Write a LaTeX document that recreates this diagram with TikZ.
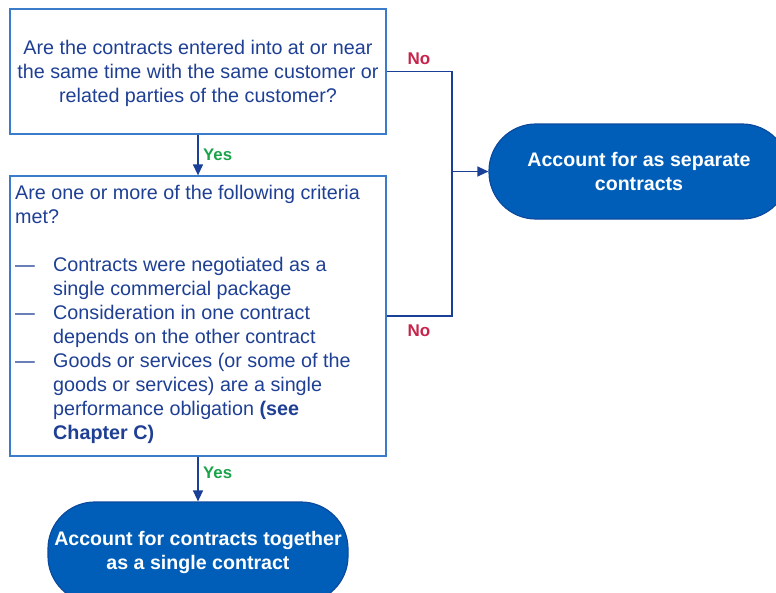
\documentclass[tikz,border=0pt]{standalone}
\usepackage{fontspec}
\setmainfont{Liberation Sans}
\usetikzlibrary{arrows.meta}
\definecolor{boxline}{HTML}{3A7CC9}
\definecolor{txtblue}{HTML}{1E3F94}
\definecolor{fillblue}{HTML}{005EB8}
\definecolor{termline}{HTML}{0B4A9E}
\definecolor{conn}{HTML}{1A3F96}
\definecolor{yesgreen}{HTML}{1BA34B}
\definecolor{nored}{HTML}{C8234A}
\tikzset{
  qbox/.style={draw=boxline, line width=1.3pt, minimum width=376pt, text=txtblue, inner sep=0pt},
  qtext/.style={text=txtblue, inner sep=0pt, font=\fontsize{19.75}{24}\selectfont},
  term/.style={draw=termline, line width=1.2pt, fill=fillblue, text=white, font=\bfseries\fontsize{19.6}{24}\selectfont, align=center, rounded corners=47pt, inner sep=0pt},
  conline/.style={draw=conn, line width=1.3pt},
  arr/.style={conline, -{Triangle[length=11pt,width=10pt]}},
  yeslab/.style={text=yesgreen, font=\bfseries\fontsize{16.8}{18}\selectfont, inner sep=0pt, anchor=west},
  nolab/.style={text=nored, font=\bfseries\fontsize{17}{18}\selectfont, inner sep=0pt},
}
\begin{document}
\begin{tikzpicture}[x=1pt,y=-1pt]
\useasboundingbox (0,0) rectangle (776,592);
\clip (0,0) rectangle (776,592);
\node[qbox, minimum height=125pt] (q1) at (198,71.5) {};
\node[qtext, align=center] (q1t) at (198,73.5)
  {Are the contracts entered into at or near\\the same time with the same customer or\\related parties of the customer?};
\node[qbox, minimum height=280pt] (q2) at (198,316) {};
\node[qtext, anchor=north west, align=left] (q2t) at (15,185)
  {Are one or more of the following criteria\\met?\\[24pt]
   \makebox[38pt][l]{---}Contracts were negotiated as a\\
   \makebox[38pt][l]{}single commercial package\\
   \makebox[38pt][l]{---}Consideration in one contract\\
   \makebox[38pt][l]{}depends on the other contract\\
   \makebox[38pt][l]{---}Goods or services (or some of the\\
   \makebox[38pt][l]{}goods or services) are a single\\
   \makebox[38pt][l]{}performance obligation \textbf{(see}\\
   \makebox[38pt][l]{}\textbf{Chapter C)}};
\node[term, minimum width=300pt, minimum height=95pt] (t1) at (639,171.5) {Account for as separate\\contracts};
\node[term, minimum width=300pt, minimum height=101pt] (t2) at (198,552.5) {Account for contracts together\\as a single contract};
\coordinate (j) at (452,171.5);
\draw[conline] (q1.east) -| (j);
\draw[conline] (q2.east) -| (j);
\draw[arr] (j) -- (t1.west);
\draw[arr] (q1.south) -- (q2.north);
\draw[arr] (q2.south) -- (t2.north);
\node[yeslab] (y1) at (203,155) {Yes};
\node[yeslab] (y2) at (203,473) {Yes};
\node[nolab] (n1) at (419,59) {No};
\node[nolab] (n2) at (419,331) {No};
\end{tikzpicture}
\end{document}
